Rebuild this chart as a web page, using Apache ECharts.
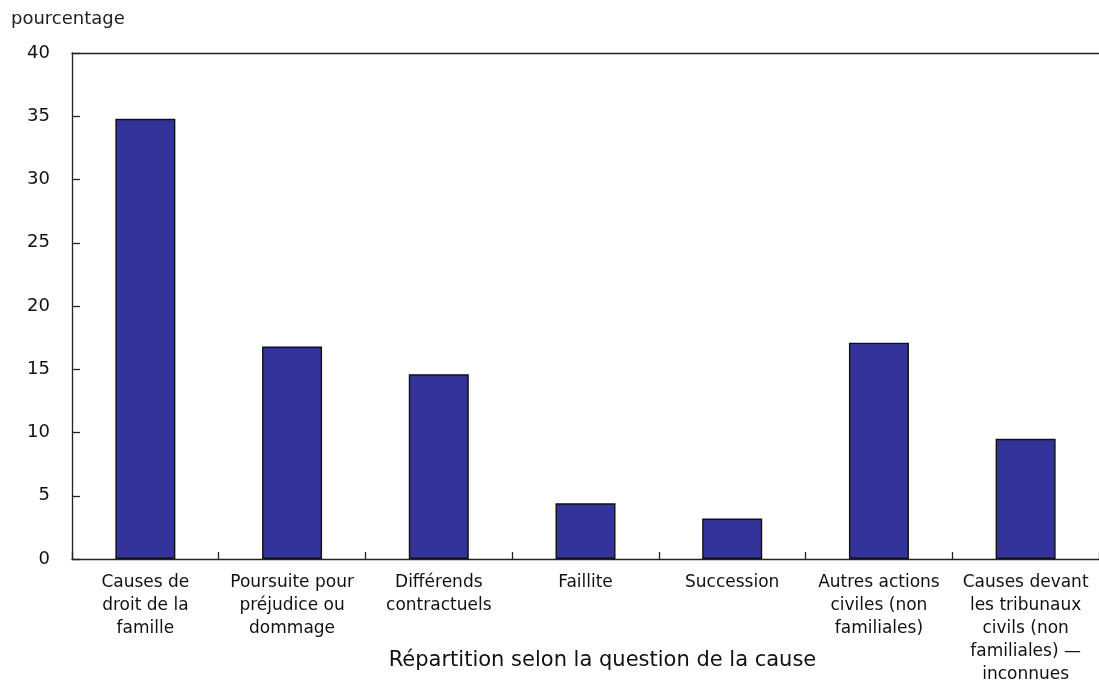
<!DOCTYPE html>
<html>
<head>
<meta charset="utf-8">
<script src="https://cdn.jsdelivr.net/npm/echarts@6/dist/echarts.min.js"></script>
<style>
html,body{margin:0;padding:0;background:#fff;}
#chart{width:1099px;height:682px;}
</style>
</head>
<body>
<div id="chart"></div>
<script>
const categories = [
  "Causes de\ndroit de la\nfamille",
  "Poursuite pour\npréjudice ou\ndommage",
  "Différends\ncontractuels",
  "Faillite",
  "Succession",
  "Autres actions\nciviles (non\nfamiliales)",
  "Causes devant\nles tribunaux\ncivils (non\nfamiliales) —\ninconnues"
];
const values = [34.8, 16.8, 14.6, 4.4, 3.2, 17.1, 9.5];
const yTicks = [0, 5, 10, 15, 20, 25, 30, 35, 40];
const yTitle = "pourcentage";
const xTitle = "Répartition selon la question de la cause";

const FONT = "DejaVu Sans";
const chart = echarts.init(document.getElementById('chart'), null, {renderer: 'canvas'});
chart.setOption({
  animation: false,
  backgroundColor: '#ffffff',
  title: {
    text: yTitle, left: 11, top: 10, padding: 0,
    textStyle: {fontFamily: FONT, fontSize: 18, fontWeight: 'normal', color: '#222'}
  },
  grid: {left: 72, right: 0, top: 53, bottom: 123, containLabel: false, outerBoundsMode: 'none'},
  xAxis: [{
    type: 'category',
    data: categories,
    boundaryGap: true,
    axisLine: {show: true, lineStyle: {color: '#222', width: 1.3}},
    axisTick: {show: true, inside: true, length: 7, alignWithLabel: false, lineStyle: {color: '#222', width: 1.3}},
    axisLabel: {interval: 0, margin: 12, fontFamily: FONT, fontSize: 17, lineHeight: 23, color: '#111', hideOverlap: false},
    name: xTitle,
    nameLocation: 'middle',
    nameGap: 91,
    nameMoveOverlap: false,
    nameTextStyle: {fontFamily: FONT, fontSize: 21, color: '#111', padding: [0, 0, 0, 34]}
  }, {
    type: 'category',
    data: categories,
    position: 'top',
    axisLine: {show: true, lineStyle: {color: '#222', width: 1.3}},
    axisTick: {show: false},
    axisLabel: {show: false}
  }],
  yAxis: {
    type: 'value',
    min: yTicks[0],
    max: yTicks[yTicks.length - 1],
    interval: 5,
    axisLine: {show: true, lineStyle: {color: '#222', width: 1.3}},
    axisTick: {show: true, inside: true, length: 8, lineStyle: {color: '#222', width: 1.3}},
    axisLabel: {margin: 22, fontFamily: FONT, fontSize: 18, color: '#111'},
    splitLine: {show: false}
  },
  series: [{
    type: 'bar',
    data: values,
    barWidth: 60,
    itemStyle: {color: '#333399', borderColor: '#111', borderWidth: 1.4}
  }]
});
</script>
</body>
</html>
